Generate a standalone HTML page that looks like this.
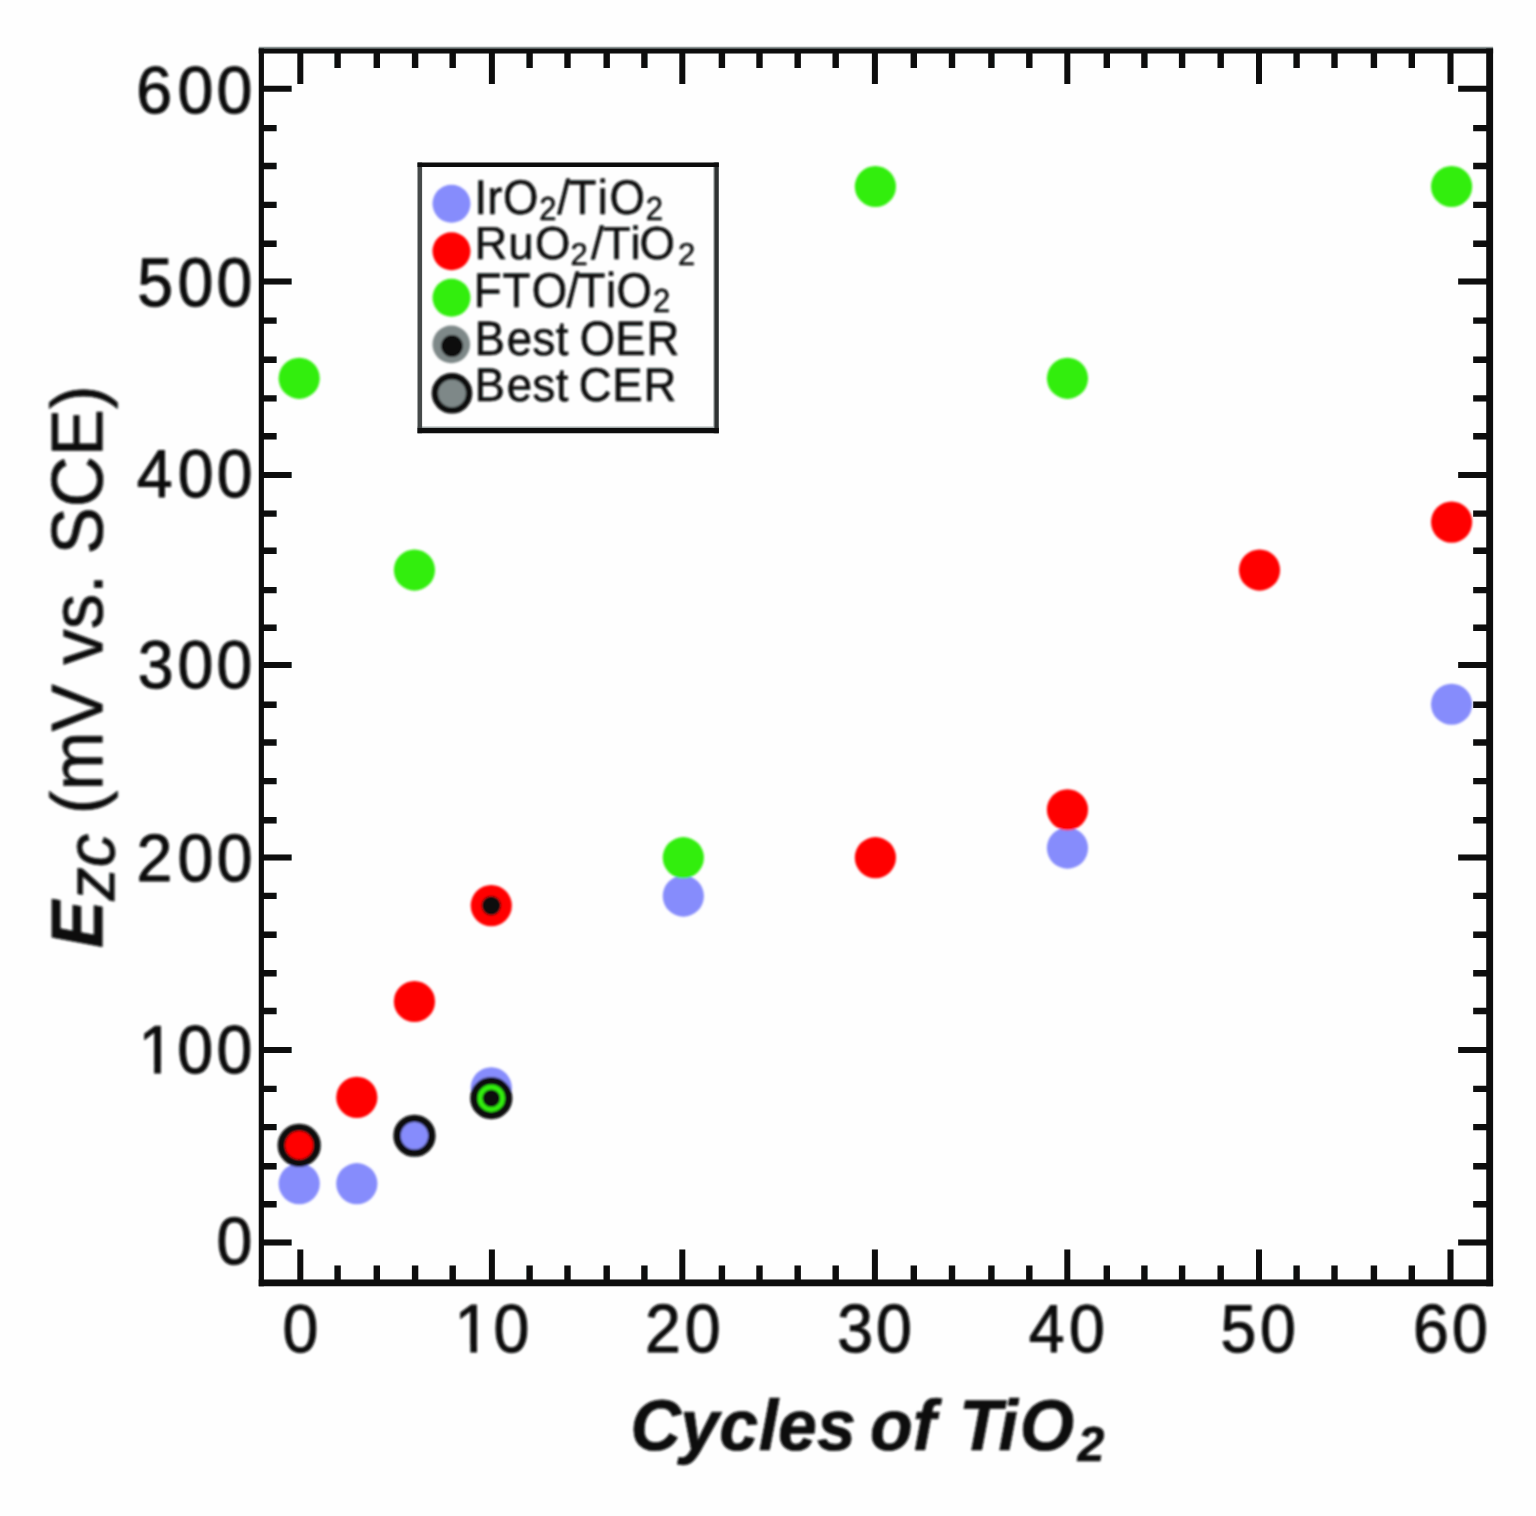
<!DOCTYPE html>
<html lang="en"><head><meta charset="utf-8"><title>E_zc vs Cycles of TiO2</title>
<style>
html,body{margin:0;padding:0;background:#fff;}
body{width:1536px;height:1516px;overflow:hidden;}
svg{display:block;font-family:"Liberation Sans",sans-serif;text-rendering:geometricPrecision;}
.t{fill:#0a0c0c;stroke:#0a0c0c;stroke-linejoin:round;}
.tk{font-size:67.8px;letter-spacing:3.34px;stroke-width:1.0;}
.lg{font-size:45.5px;stroke-width:0.55;}
.ax{stroke-width:0.7;}
.bi{font-weight:bold;font-style:italic;}
.it{font-style:italic;}
</style></head><body>
<svg width="1536" height="1516" viewBox="0 0 1536 1516">
<defs>
<filter id="softL" filterUnits="userSpaceOnUse" x="0" y="0" width="1536" height="1516"><feGaussianBlur stdDeviation="0.45"/></filter>
<filter id="softD" filterUnits="userSpaceOnUse" x="0" y="0" width="1536" height="1516"><feGaussianBlur stdDeviation="1.2"/></filter>
<filter id="softT" filterUnits="userSpaceOnUse" x="0" y="0" width="1536" height="1516"><feGaussianBlur stdDeviation="0.85"/></filter>
</defs>
<rect width="1536" height="1516" fill="#fefefe"/>
<g filter="url(#softL)">
<g stroke="#0a0c0c" fill="none">
<path d="M300.30 51.00V83.90M300.30 1282.90V1249.50M491.90 51.00V83.90M491.90 1282.90V1249.50M682.30 51.00V83.90M682.30 1282.90V1249.50M874.90 51.00V83.90M874.90 1282.90V1249.50M1067.30 51.00V83.90M1067.30 1282.90V1249.50M1259.00 51.00V83.90M1259.00 1282.90V1249.50M1450.50 51.00V83.90M1450.50 1282.90V1249.50M261.35 1242.50H291.65M1489.65 1242.50H1458.15M261.35 1049.90H291.65M1489.65 1049.90H1458.15M261.35 857.60H291.65M1489.65 857.60H1458.15M261.35 664.90H291.65M1489.65 664.90H1458.15M261.35 474.90H291.65M1489.65 474.90H1458.15M261.35 281.50H291.65M1489.65 281.50H1458.15M261.35 88.80H291.65M1489.65 88.80H1458.15" stroke-width="6.0"/>
<path d="M337.60 51.00V67.90M337.60 1282.90V1265.50M376.80 51.00V67.90M376.80 1282.90V1265.50M415.10 51.00V67.90M415.10 1282.90V1265.50M452.70 51.00V67.90M452.70 1282.90V1265.50M529.60 51.00V67.90M529.60 1282.90V1265.50M567.50 51.00V67.90M567.50 1282.90V1265.50M606.70 51.00V67.90M606.70 1282.90V1265.50M644.40 51.00V67.90M644.40 1282.90V1265.50M721.90 51.00V67.90M721.90 1282.90V1265.50M759.50 51.00V67.90M759.50 1282.90V1265.50M797.70 51.00V67.90M797.70 1282.90V1265.50M835.70 51.00V67.90M835.70 1282.90V1265.50M913.80 51.00V67.90M913.80 1282.90V1265.50M952.00 51.00V67.90M952.00 1282.90V1265.50M991.40 51.00V67.90M991.40 1282.90V1265.50M1029.30 51.00V67.90M1029.30 1282.90V1265.50M1106.80 51.00V67.90M1106.80 1282.90V1265.50M1144.40 51.00V67.90M1144.40 1282.90V1265.50M1182.10 51.00V67.90M1182.10 1282.90V1265.50M1220.70 51.00V67.90M1220.70 1282.90V1265.50M1296.60 51.00V67.90M1296.60 1282.90V1265.50M1334.50 51.00V67.90M1334.50 1282.90V1265.50M1373.90 51.00V67.90M1373.90 1282.90V1265.50M1411.80 51.00V67.90M1411.80 1282.90V1265.50M261.35 1204.20H276.65M1489.65 1204.20H1473.15M261.35 1166.30H276.65M1489.65 1166.30H1473.15M261.35 1127.10H276.65M1489.65 1127.10H1473.15M261.35 1088.90H276.65M1489.65 1088.90H1473.15M261.35 1011.00H276.65M1489.65 1011.00H1473.15M261.35 973.20H276.65M1489.65 973.20H1473.15M261.35 934.80H276.65M1489.65 934.80H1473.15M261.35 895.90H276.65M1489.65 895.90H1473.15M261.35 820.30H276.65M1489.65 820.30H1473.15M261.35 781.10H276.65M1489.65 781.10H1473.15M261.35 742.50H276.65M1489.65 742.50H1473.15M261.35 704.80H276.65M1489.65 704.80H1473.15M261.35 627.70H276.65M1489.65 627.70H1473.15M261.35 590.10H276.65M1489.65 590.10H1473.15M261.35 550.80H276.65M1489.65 550.80H1473.15M261.35 513.60H276.65M1489.65 513.60H1473.15M261.35 436.30H276.65M1489.65 436.30H1473.15M261.35 398.40H276.65M1489.65 398.40H1473.15M261.35 359.80H276.65M1489.65 359.80H1473.15M261.35 320.60H276.65M1489.65 320.60H1473.15M261.35 243.70H276.65M1489.65 243.70H1473.15M261.35 204.90H276.65M1489.65 204.90H1473.15M261.35 166.00H276.65M1489.65 166.00H1473.15M261.35 128.10H276.65M1489.65 128.10H1473.15" stroke-width="6.4"/>
</g>
<g fill="none">
<line x1="258.75" y1="47.80" x2="1493.10" y2="47.80" stroke="#8a9393" stroke-width="2.0"/>
<g stroke="#0a0c0c">
<line x1="258.75" y1="51.00" x2="1493.10" y2="51.00" stroke-width="5.0"/>
<line x1="258.75" y1="1282.90" x2="1493.10" y2="1282.90" stroke-width="6.8"/>
<line x1="261.35" y1="48.50" x2="261.35" y2="1286.30" stroke-width="5.2"/>
<line x1="1489.65" y1="48.50" x2="1489.65" y2="1286.30" stroke-width="6.9"/>
</g></g>
</g>
<g filter="url(#softD)">
<g>
<circle cx="299.20" cy="1183.67" r="20.60" fill="#868cfc"/>
<circle cx="356.82" cy="1183.67" r="20.60" fill="#868cfc"/>
<circle cx="491.27" cy="1087.79" r="20.60" fill="#868cfc"/>
<circle cx="683.33" cy="896.03" r="20.60" fill="#868cfc"/>
<circle cx="1067.47" cy="848.09" r="20.60" fill="#868cfc"/>
<circle cx="1451.60" cy="704.27" r="20.60" fill="#868cfc"/>
<circle cx="356.82" cy="1097.38" r="20.60" fill="#ff0000"/>
<circle cx="414.44" cy="1001.50" r="20.60" fill="#ff0000"/>
<circle cx="491.27" cy="905.62" r="20.60" fill="#ff0000"/>
<circle cx="875.40" cy="857.68" r="20.60" fill="#ff0000"/>
<circle cx="1067.47" cy="809.74" r="20.60" fill="#ff0000"/>
<circle cx="1259.53" cy="570.04" r="20.60" fill="#ff0000"/>
<circle cx="1451.60" cy="522.10" r="20.60" fill="#ff0000"/>
<circle cx="299.20" cy="378.28" r="20.60" fill="#33ee11"/>
<circle cx="414.44" cy="570.04" r="20.60" fill="#33ee11"/>
<circle cx="683.33" cy="857.68" r="20.60" fill="#33ee11"/>
<circle cx="875.40" cy="186.52" r="20.60" fill="#33ee11"/>
<circle cx="1067.47" cy="378.28" r="20.60" fill="#33ee11"/>
<circle cx="1451.60" cy="186.52" r="20.60" fill="#33ee11"/>
<circle cx="414.44" cy="1135.73" r="17.40" fill="#868cfc" stroke="#0a0c0c" stroke-width="7.4"/>
<circle cx="299.20" cy="1145.32" r="17.90" fill="#ff0000" stroke="#0a0c0c" stroke-width="7.4"/>
<circle cx="491.27" cy="1098.18" r="17.40" fill="#33ee11" stroke="#0a0c0c" stroke-width="7.4"/>
<circle cx="491.27" cy="1098.18" r="8.80" fill="#0a0c0c"/>
<circle cx="491.27" cy="905.62" r="9.60" fill="#0a0c0c"/>
</g>
</g>
<g filter="url(#softL)">
<rect x="417.50" y="162.40" width="301.30" height="270.90" fill="#fefefe"/>
<g fill="none">
<line x1="417.50" y1="427.40" x2="718.80" y2="427.40" stroke="#a3abab" stroke-width="2.0"/>
<line x1="714.00" y1="162.40" x2="714.00" y2="433.30" stroke="#a3abab" stroke-width="1.4"/>
<line x1="419.80" y1="162.40" x2="419.80" y2="433.30" stroke="#454a4a" stroke-width="4.6"/>
<line x1="716.60" y1="162.40" x2="716.60" y2="433.30" stroke="#2e3232" stroke-width="4.4"/>
<line x1="417.50" y1="164.70" x2="718.80" y2="164.70" stroke="#0a0c0c" stroke-width="4.6"/>
<line x1="417.50" y1="430.70" x2="718.80" y2="430.70" stroke="#0a0c0c" stroke-width="5.2"/>
</g>
</g>
<g filter="url(#softD)">
<circle cx="451.50" cy="203.80" r="19.00" fill="#868cfc"/>
<circle cx="451.50" cy="251.20" r="19.00" fill="#ff0000"/>
<circle cx="451.50" cy="297.80" r="19.00" fill="#33ee11"/>
<circle cx="451.30" cy="344.40" r="18.80" fill="#7e8888"/>
<circle cx="452.00" cy="346.00" r="10.90" fill="#0a0c0c"/>
<circle cx="452.00" cy="393.30" r="17.10" fill="#7e8888" stroke="#0a0c0c" stroke-width="6.4"/>
</g>
<g filter="url(#softT)">
<g class="t lg">
<text transform="translate(474.50 214.30) scale(1.0 1.07)" dx="0 0 0.8 0.8 0.8 -1.6 3.3 1.6 0.8">IrO<tspan dy="5.0" font-size="31">2</tspan><tspan dy="-5.0">/TiO</tspan><tspan dy="5.0" font-size="31">2</tspan></text>
<text transform="translate(474.50 259.40) scale(1.0 1.015)" dx="0 0.8 1.6 0 3.2 -0.8 1.6 -1 3">RuO<tspan dy="5.5" font-size="31">2</tspan><tspan dy="-5.5">/TiO</tspan><tspan dy="5.5" font-size="31">2</tspan></text>
<text transform="translate(473.70 307.00) scale(1.0 1.07)" dx="0 1 2.3 -0.8 -1.6 2.4 0.4 1.2">FTO/TiO<tspan dy="5.0" font-size="31">2</tspan></text>
<text transform="translate(474.50 355.20) scale(1.0 1.06)" dx="0 2 0.4 0.4 0 -1.2 0 0.8">Best OER</text>
<text transform="translate(474.50 401.00) scale(1.0 1.036)" dx="0 2 0.4 0.4 0 -2.4 0.8 0.8">Best CER</text>
</g>
<clipPath id="stem" clipPathUnits="userSpaceOnUse"><path d="M-60 -120H420V40H36.09V-7.56H23.74V40H16.75V-7.56H-60Z"/></clipPath>
<g class="t tk">
<text transform="translate(136.31 113.09) scale(0.9515 0.981)" dx="0 2.27 0">600</text>
<text transform="translate(137.17 306.46) scale(0.9515 1.013)" dx="0 1.29 0">500</text>
<text transform="translate(136.78 496.89) scale(0.9515 0.999)" dx="0 1.94 0">400</text>
<text transform="translate(137.64 687.86) scale(0.9515 0.999)" dx="0 0.9 0">300</text>
<text transform="translate(136.44 881.13) scale(0.9515 0.989)" dx="0 2.23 0">200</text>
<text transform="translate(138.27 1073.07) scale(0.9515 1.003)" dx="0.2 -0.2 0" clip-path="url(#stem)">100</text>
<text transform="translate(216.60 1263.93) scale(0.9515 0.989)">0</text>
<text transform="translate(282.39 1352.12) scale(0.9515 0.999)">0</text>
<text transform="translate(454.44 1352.02) scale(0.9515 1.005)" dx="0.2 -0.2" clip-path="url(#stem)">10</text>
<text transform="translate(644.99 1352.00) scale(0.9515 1.009)" dx="0 0.71">20</text>
<text transform="translate(837.37 1352.12) scale(0.9515 1.009)" dx="0 -0.42">30</text>
<text transform="translate(1028.77 1352.37) scale(0.9515 0.999)" dx="0 1.3">40</text>
<text transform="translate(1220.54 1352.42) scale(0.9515 0.999)" dx="0 0.48">50</text>
<text transform="translate(1413.06 1352.02) scale(0.9515 1.009)" dx="0 -0.04">60</text>
</g>
<text class="t ax bi" transform="translate(630.60 1450.40) scale(0.975 1)" font-size="71.7" dx="0 -0.8 0 0.6 0 0 0 -5.4 0 0 3.6 -1.8 1.8 3.6">Cycles of TiO<tspan dy="11" font-size="49">2</tspan></text>
<text class="t ax" transform="translate(102.30 948.00) rotate(-90) scale(0.97 1)" font-size="73"><tspan class="bi">E</tspan><tspan class="it" dy="12" font-size="69">zc</tspan><tspan dy="-12"> (mV vs. SCE)</tspan></text>
</g>
</svg>
</body></html>
